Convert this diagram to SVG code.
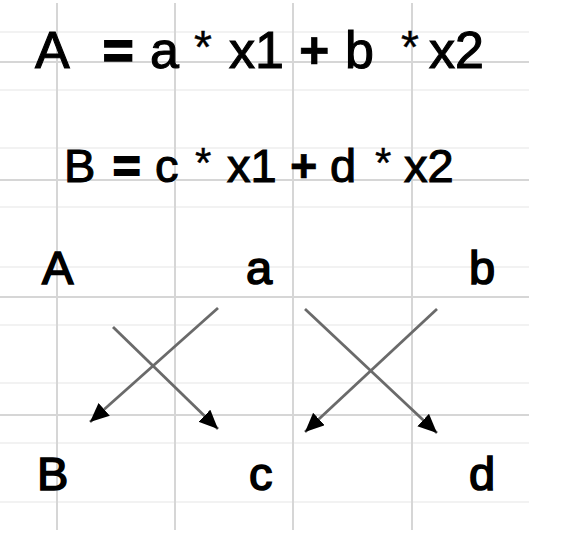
<svg xmlns="http://www.w3.org/2000/svg" width="577" height="553" viewBox="0 0 577 553">
  <style>
    .t { font-family: "Liberation Sans", Arial, sans-serif; fill: #000; stroke: #000; stroke-width: 1.1; }
    .b { font-weight: bold; stroke-width: 0.6; }
    .eq { font-weight: bold; stroke-width: 2.2; }
    .s { font-size: 46px; stroke-width: 0.4; }
    .lbl { stroke-width: 1.6; }
    .major line { stroke: #d6d6d6; stroke-width: 2; }
    .minor line { stroke: #f2f2f2; stroke-width: 2; }
    .conn line { stroke: #6a6a6a; stroke-width: 2.8; marker-end: url(#ah); }
  </style>
  <defs>
    <marker id="ah" markerUnits="userSpaceOnUse" markerWidth="21" markerHeight="18" refX="19" refY="8.5" orient="auto">
      <path d="M0,0 L19,8.5 L0,17 z" fill="#000"/>
    </marker>
  </defs>
  <rect width="577" height="553" fill="#fff"/>
  <g id="grid">
    <g class="minor">
      <line x1="0" y1="32" x2="529" y2="32"/>
      <line x1="0" y1="90" x2="529" y2="90"/>
      <line x1="0" y1="148" x2="529" y2="148"/>
      <line x1="0" y1="207" x2="529" y2="207"/>
      <line x1="0" y1="267" x2="529" y2="267"/>
      <line x1="0" y1="325" x2="529" y2="325"/>
      <line x1="0" y1="383" x2="529" y2="383"/>
      <line x1="0" y1="443" x2="529" y2="443"/>
      <line x1="0" y1="502" x2="529" y2="502"/>
    </g>
    <g class="major">
      <line x1="0" y1="62" x2="529" y2="62"/>
      <line x1="0" y1="180" x2="529" y2="180"/>
      <line x1="0" y1="297" x2="529" y2="297"/>
      <line x1="0" y1="415" x2="529" y2="415"/>
      <line x1="57" y1="3" x2="57" y2="530"/>
      <line x1="175" y1="3" x2="175" y2="530"/>
      <line x1="293" y1="3" x2="293" y2="530"/>
      <line x1="412" y1="3" x2="412" y2="530"/>
    </g>
  </g>
  <g id="eq1">
    <text class="t" y="68" font-size="52"><tspan x="35">A</tspan><tspan x="103" class="eq">=</tspan><tspan x="150">a</tspan><tspan x="194" y="63" class="s">*</tspan><tspan x="229" y="68">x1</tspan><tspan x="299" class="b">+</tspan><tspan x="345">b</tspan><tspan x="401" y="63" class="s">*</tspan><tspan x="429" y="68">x2</tspan></text>
  </g>
  <g id="eq2">
    <text class="t" y="182" font-size="47"><tspan x="64">B</tspan><tspan x="113" class="eq">=</tspan><tspan x="155">c</tspan><tspan x="195" y="177" class="s" style="font-size:42px">*</tspan><tspan x="227" y="182">x1</tspan><tspan x="290" class="b">+</tspan><tspan x="330">d</tspan><tspan x="375" y="177" class="s" style="font-size:42px">*</tspan><tspan x="404" y="182">x2</tspan></text>
  </g>
  <g id="nA"><text class="t lbl" x="42" y="284" font-size="47">A</text></g>
  <g id="na"><text class="t lbl" x="246" y="284" font-size="47">a</text></g>
  <g id="nb"><text class="t lbl" x="469" y="284" font-size="47">b</text></g>
  <g id="nB"><text class="t lbl" x="37" y="490" font-size="47">B</text></g>
  <g id="nc"><text class="t lbl" x="249" y="490" font-size="47">c</text></g>
  <g id="nd"><text class="t lbl" x="469" y="490" font-size="47">d</text></g>
  <g id="connectors" class="conn">
    <line x1="218" y1="308" x2="90" y2="422"/>
    <line x1="113" y1="327" x2="218" y2="429"/>
    <line x1="305" y1="309" x2="437" y2="433"/>
    <line x1="437" y1="309" x2="305" y2="432"/>
  </g>
</svg>
